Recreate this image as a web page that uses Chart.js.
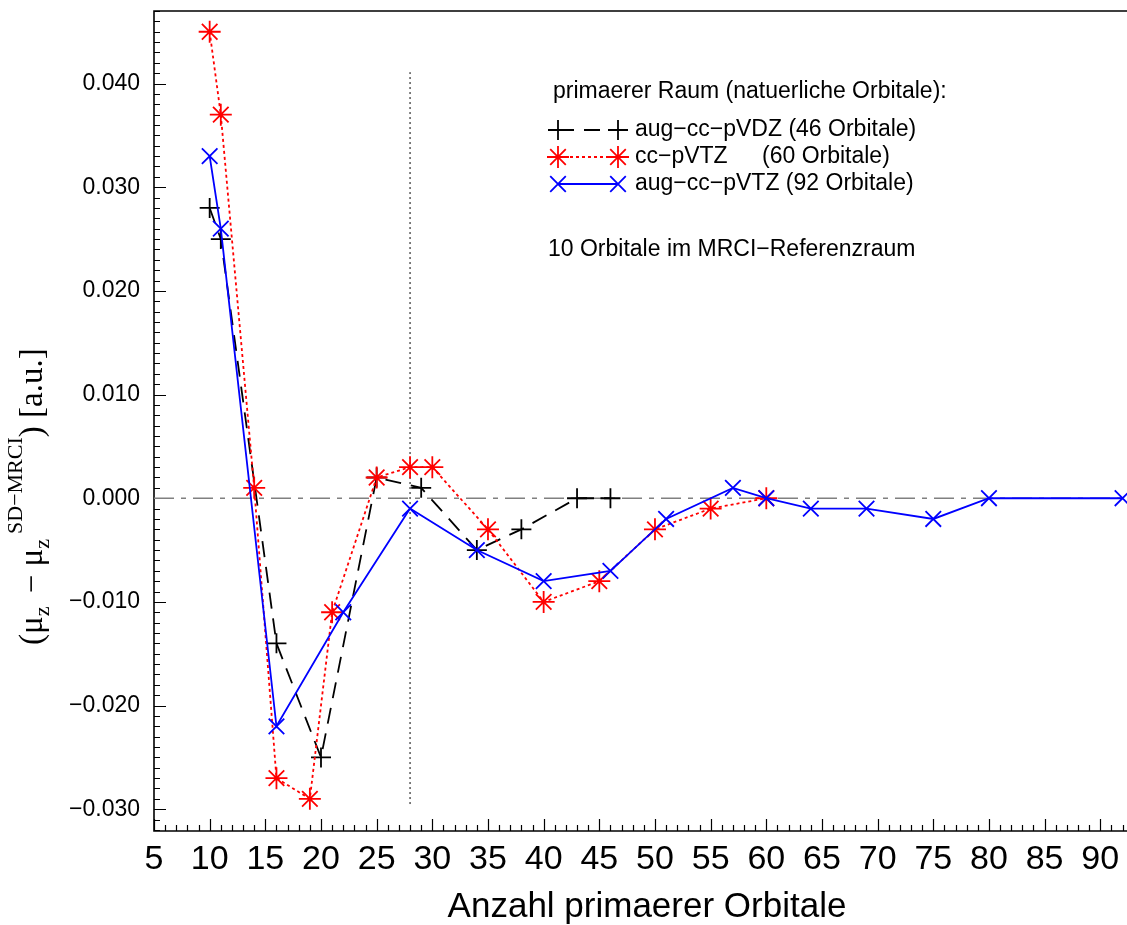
<!DOCTYPE html>
<html>
<head>
<meta charset="utf-8">
<script src="https://cdn.jsdelivr.net/npm/chart.js@4.4.1/dist/chart.umd.min.js"></script>
<style>
    html, body { margin: 0; padding: 0; background: #fff; }
    #wrap { width: 1127px; height: 925px; }
</style>
</head>
<body>
<div id="wrap"><canvas id="myChart" width="1127" height="925"></canvas></div>
<script>
// Abweichung des Dipolmoments gegen die Zahl der primaeren Orbitale
var vdzX = [10, 11, 16, 20, 25, 29, 34, 38, 43, 46];
var vdzY = [0.028, 0.025, -0.014, -0.025, 0.002, 0.001, -0.005, -0.003, 0.000, 0.000];

var vtzX = [10, 11, 14, 16, 19, 21, 25, 28, 30, 35, 40, 45, 50, 55, 60];
var vtzY = [0.045, 0.037, 0.001, -0.027, -0.029, -0.011, 0.002, 0.003, 0.003, -0.003, -0.010, -0.008, -0.003, -0.001, 0.000];

var avtzX = [10, 11, 16, 22, 28, 34, 40, 46, 51, 57, 60, 64, 69, 75, 80, 92];
var avtzY = [0.033, 0.026, -0.022, -0.011, -0.001, -0.005, -0.008, -0.007, -0.002, 0.001, 0.000, -0.001, -0.001, -0.002, 0.000, 0.000];

var seriesLabels = ['aug\u2212cc\u2212pVDZ (46 Orbitale)', 'cc\u2212pVTZ\t(60 Orbitale)', 'aug\u2212cc\u2212pVTZ (92 Orbitale)'];

var xTicks = [5, 10, 15, 20, 25, 30, 35, 40, 45, 50, 55, 60, 65, 70, 75, 80, 85, 90];
var yTicks = [-0.03, -0.02, -0.01, 0.00, 0.01, 0.02, 0.03, 0.04];
var xRange = [5, 92.4];
var yRange = [-0.0321, 0.0470];

// senkrechte Markierung bei 28 Orbitalen
var markX = 28;
var markY = [-0.0295, 0.0411];

function pts(xs, ys) {
    return xs.map(function (x, i) { return { x: x, y: ys[i] }; });
}

function fmtY(v) {
    var s = Math.abs(v).toFixed(3);
    return (v < -1e-9 ? '\u2212' : '') + s;
}

// keine zusaetzlichen Raender fuer ueberstehende Beschriftungen
function noPad(s) {
    s.paddingTop = 0;
    s.paddingBottom = 0;
    s.paddingLeft = 0;
    s.paddingRight = 0;
}

var SANS = '"Liberation Sans", Arial, Helvetica, sans-serif';
var SERIF = '"Liberation Serif", "Times New Roman", serif';

// Rahmen, nach innen zeigende Ticks, Achsentitel und Legende
var decorations = {
    id: 'decorations',
    beforeDatasetsDraw: function (chart) {
        var ctx = chart.ctx, a = chart.chartArea;
        var xs = chart.scales.x, ys = chart.scales.y;
        ctx.save();
        ctx.strokeStyle = '#000';
        ctx.lineWidth = 1.2;
        ctx.beginPath();
        for (var i = Math.ceil(yRange[0] * 1000); i <= Math.floor(yRange[1] * 1000); i++) {
            var py = Math.round(ys.getPixelForValue(i / 1000)) + 0.5;
            var len = (i % 10 === 0) ? 12 : 6;
            ctx.moveTo(a.left, py);
            ctx.lineTo(a.left + len, py);
        }
        for (var j = Math.ceil(xRange[0]); j <= Math.floor(xRange[1]); j++) {
            var px = Math.round(xs.getPixelForValue(j)) + 0.5;
            var l2 = (j % 5 === 0) ? 12 : 6;
            ctx.moveTo(px, a.bottom);
            ctx.lineTo(px, a.bottom - l2);
        }
        ctx.stroke();

        ctx.lineWidth = 1.6;
        ctx.beginPath();
        ctx.moveTo(a.right, a.top);
        ctx.lineTo(a.left, a.top);
        ctx.lineTo(a.left, a.bottom);
        ctx.lineTo(a.right, a.bottom);
        ctx.stroke();
        ctx.restore();
    },
    afterDraw: function (chart) {
        var ctx = chart.ctx;
        ctx.save();

        // x-Achsentitel
        ctx.fillStyle = '#000';
        ctx.font = '35px ' + SANS;
        ctx.textAlign = 'center';
        ctx.textBaseline = 'middle';
        ctx.fillText('Anzahl primaerer Orbitale', 647, 907);

        // y-Achsentitel mit Index und Exponent (g = Abstand danach)
        var parts = [
            { t: '(', s: 33, d: 0 },
            { t: '\u03bc', s: 33, d: 0 },
            { t: 'z', s: 22, d: 7, g: 5 },
            { t: ' \u2212 ', s: 33, d: 0 },
            { t: '\u03bc', s: 33, d: 0 },
            { t: 'z', s: 22, d: 7, g: 5 },
            { t: 'SD\u2212MRCI', s: 22, d: -20 },
            { t: ')', s: 33, d: 0 },
            { t: ' [a.u.]', s: 33, d: 0 }
        ];
        ctx.translate(42, 645);
        ctx.rotate(-Math.PI / 2);
        ctx.textAlign = 'left';
        ctx.textBaseline = 'alphabetic';
        var off = 0;
        parts.forEach(function (p) {
            ctx.font = p.s + 'px ' + SERIF;
            ctx.fillText(p.t, off, p.d);
            off += ctx.measureText(p.t).width + (p.g || 0);
        });
        ctx.setTransform(1, 0, 0, 1, 0, 0);

        // Legende im Diagramm
        ctx.font = '23px ' + SANS;
        ctx.textAlign = 'left';
        ctx.textBaseline = 'middle';
        ctx.fillText('primaerer Raum (natuerliche Orbitale):', 553, 92);
        var rowY = [130, 157, 184];
        var order = [2, 1, 0];
        order.forEach(function (di, r) {
            var ds = chart.data.datasets[di];
            var y = rowY[r];
            ctx.save();
            ctx.strokeStyle = ds.borderColor;
            ctx.lineWidth = ds.borderWidth;
            ctx.setLineDash(ds.borderDash || []);
            ctx.beginPath();
            ctx.moveTo(558, y);
            ctx.lineTo(618, y);
            ctx.stroke();
            ctx.setLineDash([]);
            ctx.fillStyle = ds.borderColor;
            [558, 618].forEach(function (mx) {
                Chart.helpers.drawPoint(ctx, {
                    pointStyle: ds.pointStyle, radius: ds.pointRadius,
                    borderWidth: ds.pointBorderWidth, rotation: 0
                }, mx, y);
            });
            ctx.restore();
            var bits = ds.label.split('\t');
            ctx.fillStyle = '#000';
            ctx.fillText(bits[0], 635, y);
            if (bits[1]) ctx.fillText(bits[1], 762, y);
        });
        ctx.fillText('10 Orbitale im MRCI\u2212Referenzraum', 548, 250);
        ctx.restore();
    }
};

document.addEventListener('DOMContentLoaded', function () {
    var ctx = document.getElementById('myChart').getContext('2d');
    var myChart = new Chart(ctx, {
        type: 'scatter',
        data: {
            datasets: [{
                label: seriesLabels[2],
                data: pts(avtzX, avtzY),
                showLine: true,
                borderColor: '#0000ff',
                borderWidth: 1.8,
                pointStyle: 'crossRot',
                pointRadius: 11,
                pointBorderWidth: 1.8,
                pointBorderColor: '#0000ff'
            }, {
                label: seriesLabels[1],
                data: pts(vtzX, vtzY),
                showLine: true,
                borderColor: '#ff0000',
                borderWidth: 1.8,
                borderDash: [3, 3],
                pointStyle: 'star',
                pointRadius: 11,
                pointBorderWidth: 1.8,
                pointBorderColor: '#ff0000'
            }, {
                label: seriesLabels[0],
                data: pts(vdzX, vdzY),
                showLine: true,
                borderColor: '#000000',
                borderWidth: 1.8,
                borderDash: [16, 10],
                pointStyle: 'cross',
                pointRadius: 10,
                pointBorderWidth: 1.8,
                pointBorderColor: '#000000'
            }, {
                label: 'mark',
                data: [{ x: markX, y: markY[0] }, { x: markX, y: markY[1] }],
                showLine: true,
                borderColor: '#000000',
                borderWidth: 1,
                borderDash: [2, 3],
                pointRadius: 0
            }, {
                label: 'zero',
                data: [{ x: xRange[0], y: 0 }, { x: xRange[1], y: 0 }],
                showLine: true,
                borderColor: '#808080',
                borderWidth: 1.6,
                borderDash: [20, 7, 5, 7],
                pointRadius: 0
            }]
        },
        options: {
            responsive: false,
            animation: false,
            events: [],
            layout: { autoPadding: false, padding: { top: 11, right: 0, left: 0, bottom: 0 } },
            plugins: {
                legend: { display: false },
                tooltip: { enabled: false }
            },
            scales: {
                x: {
                    type: 'linear',
                    min: xRange[0],
                    max: xRange[1],
                    grid: { display: false, drawTicks: false },
                    border: { display: false },
                    afterBuildTicks: function (s) { s.ticks = xTicks.map(function (v) { return { value: v }; }); },
                    afterFit: function (s) { s.height = 94; noPad(s); },
                    ticks: {
                        color: '#000',
                        padding: 8,
                        maxRotation: 0,
                        autoSkip: false,
                        font: { family: SANS, size: 34 }
                    }
                },
                y: {
                    type: 'linear',
                    min: yRange[0],
                    max: yRange[1],
                    grid: { display: false, drawTicks: false },
                    border: { display: false },
                    afterBuildTicks: function (s) { s.ticks = yTicks.map(function (v) { return { value: v }; }); },
                    afterFit: function (s) { s.width = 154; noPad(s); },
                    ticks: {
                        color: '#000',
                        padding: 14,
                        autoSkip: false,
                        font: { family: SANS, size: 23 },
                        callback: function (v) { return fmtY(v); }
                    }
                }
            }
        },
        plugins: [decorations]
    });
});
</script>
</body>
</html>
